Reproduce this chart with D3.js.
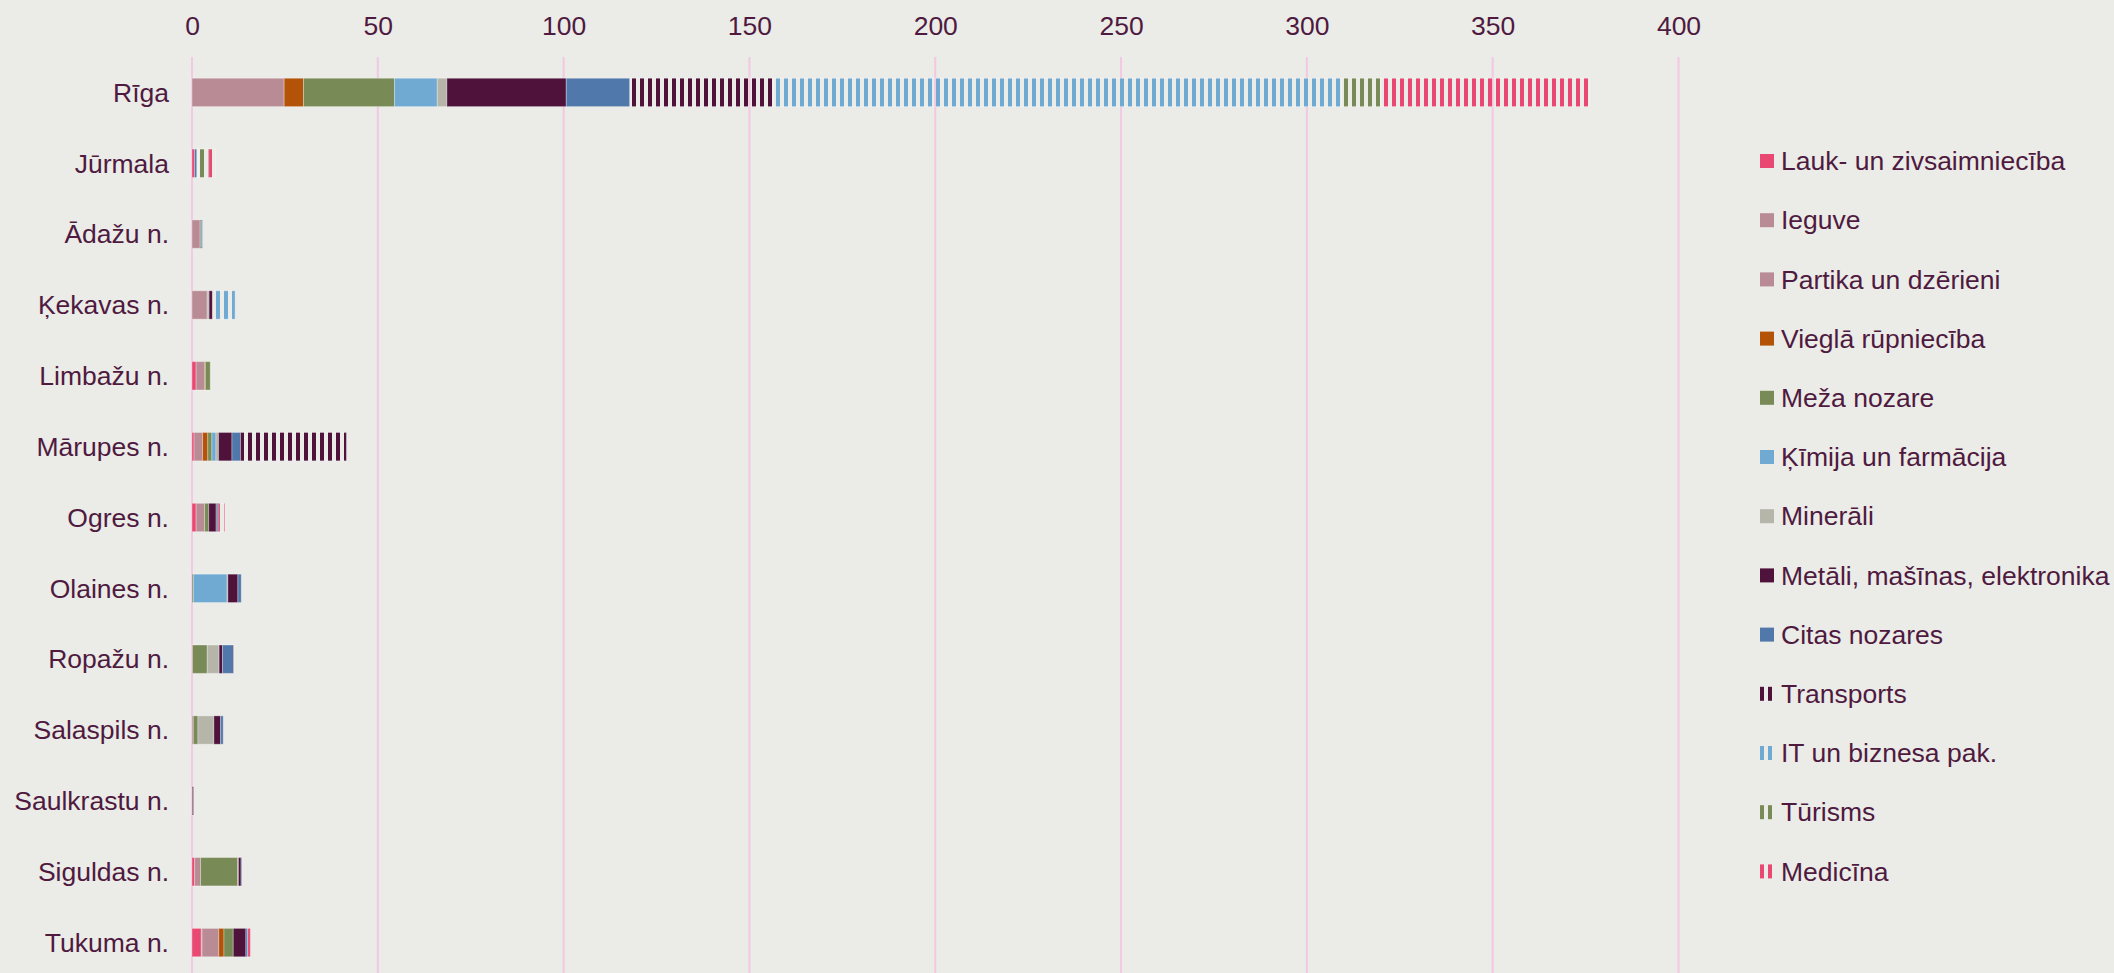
<!DOCTYPE html>
<html lang="lv">
<head>
<meta charset="utf-8">
<script src="https://cdn.jsdelivr.net/npm/d3@7"></script>
<style>
  html, body { margin: 0; padding: 0; background: #ebebe7; }
  svg { display: block; }
  text { font-family: "Liberation Sans", Arial, sans-serif; fill: #4f1a3f; }
</style>
</head>
<body>
<svg id="chart" width="2114" height="973"></svg>
<script>
// Novadi (kategorijas)
const regions = ["Rīga", "Jūrmala", "Ādažu n.", "Ķekavas n.", "Limbažu n.", "Mārupes n.",
  "Ogres n.", "Olaines n.", "Ropažu n.", "Salaspils n.", "Saulkrastu n.", "Siguldas n.", "Tukuma n."];

// Nozaru vērtības katram novadam (tādā pašā secībā kā regions)
const laukZivs     = [0, 0.7, 0, 0, 1.1, 0.55, 1.1, 0, 0.15, 0, 0, 0.7, 2.5];
const ieguve       = [0, 0, 0, 0, 0, 0, 0, 0, 0, 0, 0, 0, 0.2];
const partika      = [24.8, 0, 2.2, 4.1, 2.3, 2.3, 2.3, 0, 0, 0.35, 0, 1.6, 4.5];
const vieglaRup    = [5.2, 0, 0, 0, 0.2, 1.4, 0, 0, 0, 0, 0, 0, 1.4];
const mezaNozare   = [24.5, 0, 0.3, 0, 1.3, 1.1, 1.1, 0.35, 3.95, 1.25, 0, 10.0, 2.5];
const kimija       = [11.5, 0, 0, 0, 0, 1.1, 0, 9.1, 0, 0, 0, 0, 0];
const minerali     = [2.6, 0, 0, 0.5, 0, 0.7, 0, 0.2, 3.2, 4.3, 0.1, 0.2, 0];
const metali       = [32.1, 0, 0, 0.9, 0, 3.6, 2.0, 2.7, 0.9, 1.8, 0.3, 0.7, 3.4];
const citas        = [17.1, 0.6, 0.3, 0, 0, 2.3, 0.35, 0.9, 3.0, 0.7, 0, 0.2, 0.5];
const transports   = [38.6, 0, 0, 0, 0, 28.5, 0.35, 0, 0, 0, 0, 0, 0];
const itBizness    = [152.9, 0.5, 0, 6.1, 0, 0, 0, 0, 0, 0, 0, 0, 0];
const turisms      = [10.5, 2.7, 0, 0, 0, 0, 0, 0, 0, 0, 0, 0, 0];
const medicina     = [56.2, 1.8, 0, 0, 0, 0, 1.6, 0, 0.1, 0, 0, 0, 0.7];

// Nozaru nosaukumi un krāsas
const sectorNames = ["Lauk- un zivsaimniecība", "Ieguve", "Partika un dzērieni", "Vieglā rūpniecība",
  "Meža nozare", "Ķīmija un farmācija", "Minerāli", "Metāli, mašīnas, elektronika", "Citas nozares",
  "Transports", "IT un biznesa pak.", "Tūrisms", "Medicīna"];
const sectorValues = [laukZivs, ieguve, partika, vieglaRup, mezaNozare, kimija, minerali,
  metali, citas, transports, itBizness, turisms, medicina];
const sectorColors = ["#e94873", "#b98c95", "#b98c95", "#b25308", "#788a55", "#70aad3", "#b5b5aa",
  "#4e123b", "#5178aa", "#4e123b", "#70aad3", "#788a55", "#e94873"];
const sectorStriped = [false, false, false, false, false, false, false, false, false, true, true, true, true];

const xTicks = [0, 50, 100, 150, 200, 250, 300, 350, 400];

// Tabula d3.stack vajadzībām
const table = regions.map((r, i) => {
  const row = { region: r };
  sectorNames.forEach((s, k) => { row[s] = sectorValues[k][i]; });
  return row;
});

const svg = d3.select("#chart");
const W = 2114, H = 973;
const FONT = 26.5;

const x = d3.scaleLinear().domain([0, 400]).range([192, 1678.5]);
const y = d3.scaleBand().domain(regions).range([57, 978]).paddingInner(0.6).paddingOuter(0.3);

// Svītrotie raksti
const defs = svg.append("defs");
sectorNames.forEach((s, k) => {
  if (!sectorStriped[k]) return;
  const p = defs.append("pattern")
    .attr("id", "stripe" + k)
    .attr("patternUnits", "userSpaceOnUse")
    .attr("x", 0).attr("y", 0)
    .attr("width", 8).attr("height", 8);
  p.append("rect").attr("x", 0).attr("y", 0).attr("width", 4).attr("height", 8)
    .attr("fill", sectorColors[k]);
});
const fillOf = k => sectorStriped[k] ? `url(#stripe${k})` : sectorColors[k];

// Režģa līnijas
svg.append("g")
  .selectAll("line")
  .data(xTicks)
  .join("line")
  .attr("x1", d => x(d)).attr("x2", d => x(d))
  .attr("y1", 57).attr("y2", H)
  .attr("stroke", "#f2c8e3")
  .attr("stroke-width", 2);

// Augšējā ass
const xAxis = d3.axisTop(x).tickValues(xTicks).tickSize(0).tickPadding(0);
const gx = svg.append("g").attr("transform", "translate(0,35)").call(xAxis);
gx.select(".domain").remove();
gx.selectAll("text")
  .attr("font-size", FONT)
  .attr("font-family", "'Liberation Sans', Arial, sans-serif")
  .attr("fill", "#4f1a3f")
  .attr("dy", 0);

// Kreisā ass (novadi)
const yAxis = d3.axisLeft(y).tickSize(0).tickPadding(0);
const gy = svg.append("g").attr("transform", "translate(169,0)").call(yAxis);
gy.select(".domain").remove();
gy.selectAll("text")
  .attr("font-size", FONT)
  .attr("font-family", "'Liberation Sans', Arial, sans-serif")
  .attr("fill", "#4f1a3f")
  .attr("dy", "0.35em");

// Stabiņi
const stack = d3.stack().keys(sectorNames);
const series = stack(table);

svg.append("g")
  .selectAll("g")
  .data(series)
  .join("g")
  .attr("fill", (d, k) => fillOf(k))
  .selectAll("rect")
  .data(d => d.filter(s => s[1] - s[0] > 0))
  .join("rect")
  .attr("x", d => x(d[0]))
  .attr("width", d => x(d[1]) - x(d[0]))
  .attr("y", d => y(d.data.region))
  .attr("height", y.bandwidth())
  .attr("stroke", "rgba(255,255,255,0.3)")
  .attr("stroke-width", 1);

// Leģenda
const legend = svg.append("g");
const lg = legend.selectAll("g")
  .data(sectorNames)
  .join("g")
  .attr("transform", (d, k) => `translate(0,${161 + k * 59.2})`);
lg.append("rect")
  .attr("x", 1760).attr("y", -7)
  .attr("width", 14).attr("height", 14)
  .attr("fill", (d, k) => fillOf(k));
lg.append("text")
  .attr("x", 1781).attr("y", 0)
  .attr("dy", "0.35em")
  .attr("font-size", FONT)
  .text(d => d);
</script>
</body>
</html>
